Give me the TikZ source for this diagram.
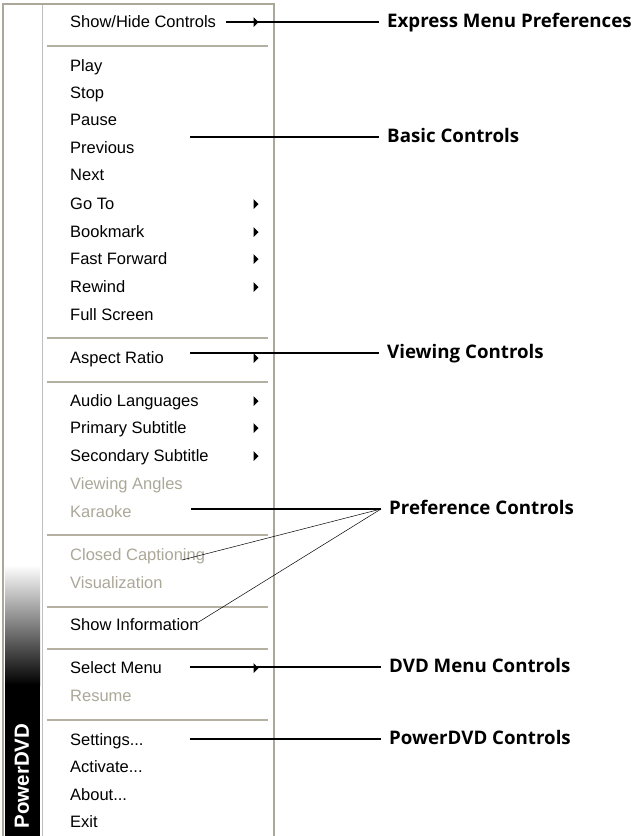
\documentclass[tikz,border=0pt]{standalone}
\usepackage{fontspec}
\setmainfont{Liberation Sans}
\newfontfamily\lblfont{Open Sans}
\definecolor{xpborder}{RGB}{172,168,153}
\definecolor{xpsep}{RGB}{180,176,162}
\definecolor{xpgray}{RGB}{172,168,153}
\definecolor{xpinner}{RGB}{190,190,190}
\begin{document}
\begin{tikzpicture}[x=1pt,y=-1pt,
  item/.style={anchor=west,inner sep=0pt,text height=14pt,text depth=2.2pt,
    font=\fontsize{16.5}{18}\selectfont},
  dis/.style={item,text=xpgray},
  sepline/.style={draw=xpsep,line width=1.2pt},
  subarrow/.style={fill=black},
  lbl/.style={anchor=west,inner sep=0pt,inner xsep=8pt,text height=13.4pt,text depth=2pt,
    font=\lblfont\bfseries\fontsize{18.7}{21}\selectfont},
  callout/.style={draw=black,line width=1.1pt},
  thincall/.style={draw=black,line width=0.5pt}]
\useasboundingbox (0,0) rectangle (636,836);
% menu frame
\fill[white] (3,4) rectangle (274,836);
\shade[top color=white,bottom color=black] (5,565) rectangle (40,685);
\fill[black] (5,684) rectangle (40,836);
\draw[xpinner,line width=1pt] (42,4) -- (42,836);
\draw[xpborder,line width=1.3pt] (3,836) -- (3,4) -- (274,4) -- (274,836);
\node[rotate=90,text=white,inner sep=0pt,font=\bfseries\fontsize{20.5}{22}\selectfont] (brand) at (22,776) {PowerDVD};
% separators
\foreach \yy in {46,338,382,535,607,649,720}{\draw[sepline] (47,\yy) -- (268,\yy);}
% items
\node[item] (showhide) at (70,22) {Show/Hide Controls};
\node[item] (play) at (70,66) {Play};
\node[item] (stop) at (70,93) {Stop};
\node[item] (pause) at (70,120) {Pause};
\node[item] (previous) at (70,148) {Previous};
\node[item] (next) at (70,175) {Next};
\node[item] (goto) at (70,204) {Go To};
\node[item] (bookmark) at (70,232) {Bookmark};
\node[item] (ff) at (70,259) {Fast Forward};
\node[item] (rewind) at (70,287) {Rewind};
\node[item] (full) at (70,315) {Full Screen};
\node[item] (aspect) at (70,358) {Aspect Ratio};
\node[item] (audio) at (70,401) {Audio Languages};
\node[item] (primary) at (70,428) {Primary Subtitle};
\node[item] (secondary) at (70,456) {Secondary Subtitle};
\node[dis] (angles) at (70,484) {Viewing Angles};
\node[dis] (karaoke) at (70,512) {Karaoke};
\node[dis] (closed) at (70,555) {Closed Captioning};
\node[dis] (visual) at (70,583) {Visualization};
\node[item] (info) at (70,625) {Show Information};
\node[item] (select) at (70,668) {Select Menu};
\node[dis] (resume) at (70,696) {Resume};
\node[item] (settings) at (70,740) {Settings...};
\node[item] (activate) at (70,767) {Activate...};
\node[item] (about) at (70,795) {About...};
\node[item] (exit) at (70,822) {Exit};
% submenu arrows
\foreach \yy in {22,204,232,259,287,358,401,428,456,668}{
  \fill[subarrow] (253.5,\yy-5) -- (258.5,\yy) -- (253.5,\yy+5) -- cycle;}
% labels
\node[lbl] (l1) at (379,22) {Express Menu Preferences};
\node[lbl] (l2) at (379,137) {Basic Controls};
\node[lbl] (l3) at (379,353) {Viewing Controls};
\node[lbl] (l4) at (381,509) {Preference Controls};
\node[lbl] (l5) at (381,667) {DVD Menu Controls};
\node[lbl] (l6) at (381,739) {PowerDVD Controls};
% callout start points
\coordinate (c1) at (226,22);
\coordinate (c2) at (190,137);
\coordinate (c3) at (190,353);
\coordinate (c4) at (191,509);
\coordinate (c4a) at (182,560);
\coordinate (c4b) at (197,623);
\coordinate (c5) at (190,667);
\coordinate (c6) at (190,739);
\draw[callout] (c1) -- (l1.west);
\draw[callout] (c2) -- (l2.west);
\draw[callout] (c3) -- (l3.west);
\draw[callout] (c4) -- (l4.west);
\draw[thincall] (c4a) -- (l4.west);
\draw[thincall] (c4b) -- (l4.west);
\draw[callout] (c5) -- (l5.west);
\draw[callout] (c6) -- (l6.west);
\end{tikzpicture}
\end{document}
